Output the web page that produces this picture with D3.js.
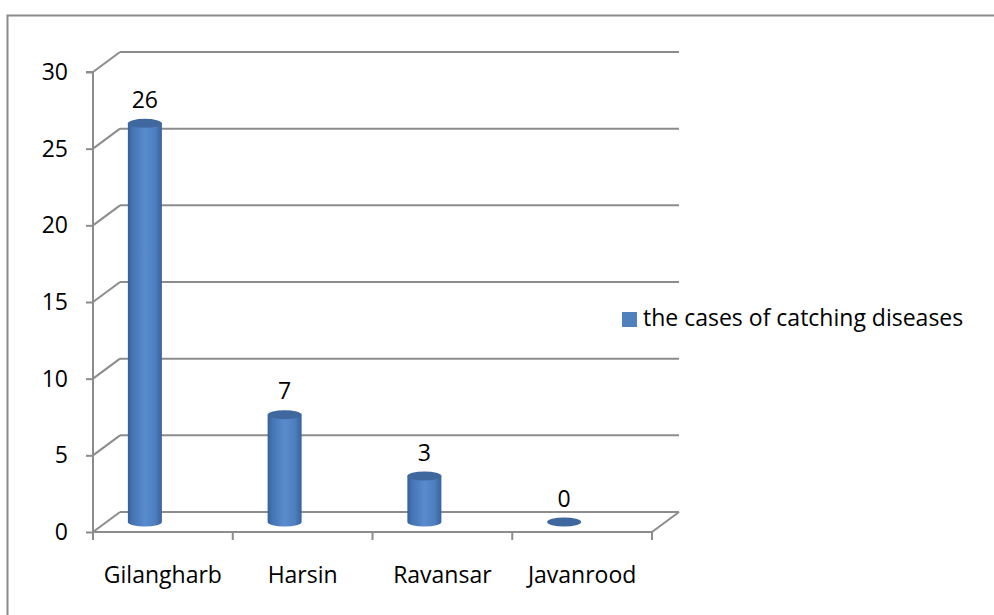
<!DOCTYPE html>
<html>
<head>
<meta charset="utf-8">
<script src="https://cdn.jsdelivr.net/npm/d3@7"></script>
<style>
  body { margin: 0; background: #fff; }
  text { font-family: "Open Sans", "Noto Sans", sans-serif; fill: #000; }
</style>
</head>
<body>
<div class="chart"></div>
<script>
// chart data
var categories = ["Gilangharb", "Harsin", "Ravansar", "Javanrood"];
var cases = [26, 7, 3, 0];
var yTicks = [0, 5, 10, 15, 20, 25, 30];
var seriesName = "the cases of catching diseases";

var svgWidth = 994;
var svgHeight = 615;
var fontSize = 23;

// 3d depth offset of the back wall
var depth = { dx: 27, dy: -20 };
var gridColor = "#8c8c8c";

var svg = d3.select(".chart")
  .append("svg")
  .attr("width", svgWidth)
  .attr("height", svgHeight);

// gradient for the cylinders
var defs = svg.append("defs");
var grad = defs.append("linearGradient").attr("id", "cyl").attr("x1", 0).attr("x2", 1).attr("y1", 0).attr("y2", 0);
[["0%", "#365f96"], ["12%", "#4373b2"], ["50%", "#5a8bcd"], ["80%", "#4d7fc0"], ["100%", "#3a6299"]]
  .forEach(s => grad.append("stop").attr("offset", s[0]).attr("stop-color", s[1]));

// outer frame
svg.append("path")
  .attr("d", "M7.5,615 L7.5,15.5 L994,15.5")
  .attr("fill", "none")
  .attr("stroke", "#8a8a8a")
  .attr("stroke-width", 2);

// scales
var xScale = d3.scaleBand()
  .domain(categories)
  .range([93, 652]);

var yScale = d3.scaleLinear()
  .domain([0, 30])
  .range([532, 72]);

// cylinders sit mid-depth
var yMid = d3.scaleLinear()
  .domain([0, 30])
  .range([522, 62]);
var cylShift = -18;
var cylRx = 17;
var cylRy = 4.5;

var chartGroup = svg.append("g");

// back wall gridlines
chartGroup.selectAll(".grid")
  .data(yTicks)
  .enter()
  .append("line")
  .attr("x1", xScale.range()[0] + depth.dx)
  .attr("x2", xScale.range()[1] + depth.dx)
  .attr("y1", d => yScale(d) + depth.dy)
  .attr("y2", d => yScale(d) + depth.dy)
  .attr("stroke", gridColor)
  .attr("stroke-width", 2);

// side wall diagonals
chartGroup.selectAll(".diag")
  .data(yTicks)
  .enter()
  .append("line")
  .attr("x1", xScale.range()[0])
  .attr("x2", xScale.range()[0] + depth.dx)
  .attr("y1", d => yScale(d))
  .attr("y2", d => yScale(d) + depth.dy)
  .attr("stroke", gridColor)
  .attr("stroke-width", 2);

// floor right edge
chartGroup.append("line")
  .attr("x1", xScale.range()[1])
  .attr("x2", xScale.range()[1] + depth.dx)
  .attr("y1", yScale(0))
  .attr("y2", yScale(0) + depth.dy)
  .attr("stroke", gridColor)
  .attr("stroke-width", 2);

// value axis
var yAxis = d3.axisLeft(yScale).tickValues(yTicks).tickSize(7).tickPadding(18);
var yAxisG = chartGroup.append("g")
  .attr("transform", `translate(${xScale.range()[0]},0)`)
  .call(yAxis);

// category axis
var xAxis = d3.axisBottom(xScale).tickSize(0).tickPadding(46);
var xAxisG = chartGroup.append("g")
  .attr("transform", `translate(0,${yScale(0)})`)
  .call(xAxis);

// category tick marks on band edges
var edges = categories.map(c => xScale(c)).concat([xScale.range()[1]]);
xAxisG.selectAll(".edge")
  .data(edges)
  .enter()
  .append("line")
  .attr("x1", d => d)
  .attr("x2", d => d)
  .attr("y1", 0)
  .attr("y2", 8)
  .attr("stroke", gridColor)
  .attr("stroke-width", 2);

[yAxisG, xAxisG].forEach(function(g) {
  g.select(".domain").attr("stroke", gridColor).attr("stroke-width", 2);
  g.selectAll(".tick line").attr("stroke", gridColor).attr("stroke-width", 2);
  g.selectAll(".tick text").attr("font-size", fontSize).attr("font-family", "Open Sans").attr("fill", "#000");
});
yAxisG.select(".domain").attr("d", `M-7,${yScale(30)}H0V${yScale(0) + 8}`);
xAxisG.select(".domain").attr("d", `M0,0H${xScale.range()[1] - xScale.range()[0]}`)
  .attr("transform", `translate(${xScale.range()[0]},0)`);
xAxisG.selectAll(".tick text").attr("dy", "0.2em");

// cylinders
var barData = categories.map((c, i) => ({ cat: c, value: cases[i] }));
var cx = d => xScale(d.cat) + xScale.bandwidth() / 2 + cylShift;

var cyl = chartGroup.selectAll(".cyl")
  .data(barData)
  .enter()
  .append("g");

cyl.filter(d => d.value > 0)
  .append("path")
  .attr("d", function(d) {
    var x0 = cx(d) - cylRx, x1 = cx(d) + cylRx;
    var yb = yMid(0), yt = yMid(d.value);
    return `M${x0},${yt} L${x0},${yb} A${cylRx},${cylRy} 0 0 0 ${x1},${yb} L${x1},${yt} Z`;
  })
  .attr("fill", "url(#cyl)");

cyl.append("ellipse")
  .attr("cx", cx)
  .attr("cy", d => yMid(d.value))
  .attr("rx", cylRx)
  .attr("ry", cylRy)
  .attr("fill", "#3f689f");

// value labels
chartGroup.selectAll(".val")
  .data(barData)
  .enter()
  .append("text")
  .attr("x", cx)
  .attr("y", d => yMid(d.value) - cylRy - 11)
  .attr("text-anchor", "middle")
  .attr("font-size", fontSize)
  .text(d => d.value);

// legend
var legend = svg.append("g").attr("transform", "translate(622,312)");
legend.append("rect")
  .attr("width", 15)
  .attr("height", 15)
  .attr("fill", "#4f81bd");
legend.append("text")
  .attr("x", 21)
  .attr("y", 14)
  .attr("font-size", fontSize)
  .text(seriesName);
</script>
</body>
</html>
